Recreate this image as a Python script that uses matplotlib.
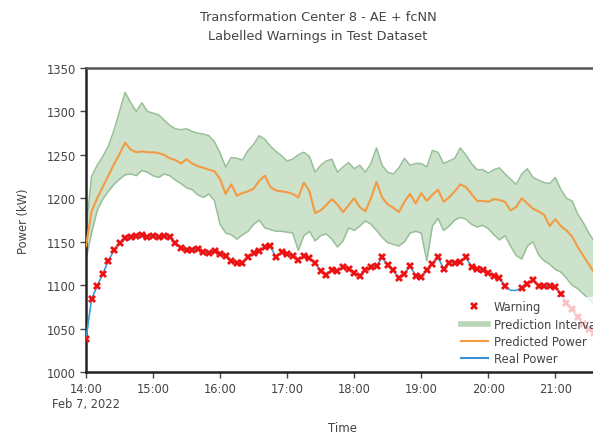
import matplotlib
matplotlib.use("Agg")
from matplotlib import pyplot as plt
from matplotlib.lines import Line2D
import numpy as np
import pandas as pd

# 5-minute samples starting 2022-02-07 14:00
start = "2022-02-07 14:00"
step = "5min"

real_power = [1038, 1084, 1099, 1113, 1128, 1140, 1148, 1154, 1156, 1157,
              1158, 1156, 1157, 1155, 1157, 1155, 1149, 1143, 1140, 1140,
              1142, 1138, 1137, 1139, 1136, 1134, 1128, 1125, 1125, 1132,
              1137, 1139, 1144, 1145, 1132, 1138, 1136, 1134, 1129, 1133,
              1131, 1126, 1116, 1112, 1118, 1116, 1121, 1119, 1114, 1111,
              1117, 1121, 1122, 1132, 1123, 1117, 1108, 1113, 1122, 1111,
              1109, 1118, 1124, 1132, 1119, 1126, 1126, 1127, 1132, 1121,
              1119, 1117, 1114, 1111, 1108, 1099, 1094, 1094, 1097, 1101,
              1106, 1099, 1099, 1099, 1098, 1090, 1080, 1072, 1063, 1055,
              1050, 1045, 1040]

predicted = [1145, 1185, 1200, 1213, 1226, 1239, 1251, 1264, 1256, 1253,
             1254, 1253, 1253, 1252, 1250, 1246, 1244, 1240, 1245, 1240,
             1237, 1235, 1233, 1231, 1222, 1205, 1216, 1203, 1206, 1208,
             1211, 1220, 1226, 1213, 1209, 1208, 1207, 1205, 1201, 1218,
             1208, 1183, 1186, 1192, 1199, 1193, 1184, 1192, 1200, 1190,
             1185, 1200, 1219, 1201, 1193, 1189, 1184, 1196, 1205, 1194,
             1206, 1197, 1204, 1210, 1196, 1201, 1208, 1216, 1213, 1205,
             1197, 1197, 1196, 1199, 1198, 1196, 1186, 1190, 1200, 1194,
             1188, 1185, 1181, 1168, 1176, 1168, 1163, 1156, 1144, 1134,
             1124, 1114, 1106]

upper = [1165, 1225, 1238, 1248, 1260, 1278, 1300, 1322, 1310, 1300,
         1310, 1300, 1298, 1296, 1290, 1284, 1280, 1279, 1280, 1277,
         1275, 1274, 1272, 1265, 1252, 1236, 1247, 1246, 1244, 1255,
         1262, 1272, 1268, 1260, 1254, 1249, 1243, 1245, 1250, 1253,
         1248, 1230, 1238, 1243, 1245, 1230, 1236, 1241, 1234, 1238,
         1230, 1240, 1258, 1238, 1230, 1228, 1235, 1246, 1238, 1240,
         1240, 1236, 1255, 1253, 1240, 1243, 1246, 1258, 1250, 1240,
         1233, 1233, 1229, 1233, 1235, 1228, 1222, 1216, 1228, 1234,
         1224, 1221, 1218, 1217, 1224, 1210, 1200, 1197, 1182, 1172,
         1160, 1150, 1140]

lower = [1130, 1160, 1186, 1199, 1208, 1216, 1222, 1227, 1228, 1226,
         1232, 1230, 1226, 1224, 1228, 1226, 1221, 1217, 1212, 1210,
         1204, 1201, 1205, 1197, 1170, 1160, 1158, 1153, 1158, 1162,
         1170, 1175, 1166, 1164, 1162, 1162, 1161, 1160, 1140, 1157,
         1162, 1151, 1157, 1159, 1153, 1144, 1151, 1166, 1163, 1168,
         1174, 1170, 1163, 1155, 1149, 1147, 1145, 1150, 1160, 1162,
         1160, 1128, 1168, 1177, 1163, 1168, 1175, 1178, 1176, 1170,
         1167, 1169, 1165, 1158, 1152, 1157, 1145, 1134, 1130, 1145,
         1150, 1135, 1128, 1124, 1118, 1115, 1108, 1100, 1096, 1090,
         1084, 1078, 1072]

# 1 = labelled warning
is_warning = [1, 1, 1, 1, 1, 1, 1, 1, 1, 1,
              1, 1, 1, 1, 1, 1, 1, 1, 1, 1,
              1, 1, 1, 1, 1, 1, 1, 1, 1, 1,
              1, 1, 1, 1, 1, 1, 1, 1, 1, 1,
              1, 1, 1, 1, 1, 1, 1, 1, 1, 1,
              1, 1, 1, 1, 1, 1, 1, 1, 1, 1,
              1, 1, 1, 1, 1, 1, 1, 1, 1, 1,
              1, 1, 1, 1, 1, 1, 0, 0, 1, 1,
              1, 1, 1, 1, 1, 1, 1, 1, 1, 1,
              1, 1, 1]

y_ticks = [1000, 1050, 1100, 1150, 1200, 1250, 1300, 1350]
x_tick_labels = ["14:00\nFeb 7, 2022", "15:00", "16:00", "17:00",
                 "18:00", "19:00", "20:00", "21:00"]

times = pd.date_range(start, periods=len(real_power), freq=step)
real = np.array(real_power, dtype=float)
warn = np.where(np.array(is_warning) == 1, real, np.nan)

W, H = 593, 439
fig = plt.figure(figsize=(W / 100, H / 100), dpi=100)
ax = fig.add_axes([86 / W, 1 - 373 / H, (600 - 86) / W, (373 - 69) / H])

band_fill = "#cde2cb"
band_edge = "#98bf9a"
ax.fill_between(times, lower, upper, color=band_fill, lw=0, zorder=1)
ax.plot(times, upper, color=band_edge, lw=1.1, zorder=2)
ax.plot(times, lower, color=band_edge, lw=1.1, zorder=2)
ax.plot(times, predicted, color="#f39a45", lw=1.5, zorder=3)
ax.plot(times, real, color="#3aa0d8", lw=1.2, zorder=4)
ax.plot(times, warn, ls="none", marker="X", ms=6, mew=0, color="#ee1111", zorder=5)

ax.set_xlim(times[0], times[-1])
ax.set_ylim(1000, 1350)
ax.set_yticks(y_ticks)
tick_times = pd.date_range(start, periods=len(x_tick_labels), freq="1h")
ax.set_xticks(tick_times)
ax.set_xticklabels(x_tick_labels)

for s in ["left", "bottom", "top"]:
    ax.spines[s].set_linewidth(1.8)
    ax.spines[s].set_color("#222222")
ax.spines["top"].set_color("#555555")
ax.spines["right"].set_visible(False)
ax.tick_params(axis="both", direction="out", length=4, width=1, color="#444444",
               labelsize=8.3, labelcolor="#444444", pad=3)

ax.set_ylabel("Power (kW)", fontsize=8.3, color="#444444", labelpad=12)
ax.set_xlabel("Time", fontsize=8.5, color="#444444", labelpad=8)

fig.text(318 / W, 1 - 27 / H, "Transformation Center 8 - AE + fcNN\nLabelled Warnings in Test Dataset",
         ha="center", va="center", fontsize=9.3, color="#444444", linespacing=1.55)

handles = [
    Line2D([], [], ls="none", marker="X", ms=6, mew=0, color="#ee1111"),
    Line2D([], [], color="#b9d6b7", lw=4),
    Line2D([], [], color="#f39a45", lw=1.5),
    Line2D([], [], color="#3a8fd0", lw=1.5),
]
labels = ["Warning", "Prediction Interval", "Predicted Power", "Real Power"]
leg = fig.legend(handles, labels, loc="upper left", bbox_to_anchor=(452 / W, 1 - 292 / H),
                 fontsize=8.3, frameon=True, framealpha=0.75, edgecolor="none",
                 handlelength=2.3, handletextpad=0.5, labelspacing=0.38, borderpad=0.3)
for t in leg.get_texts():
    t.set_color("#444444")

plt.savefig("out.png", dpi=100)
